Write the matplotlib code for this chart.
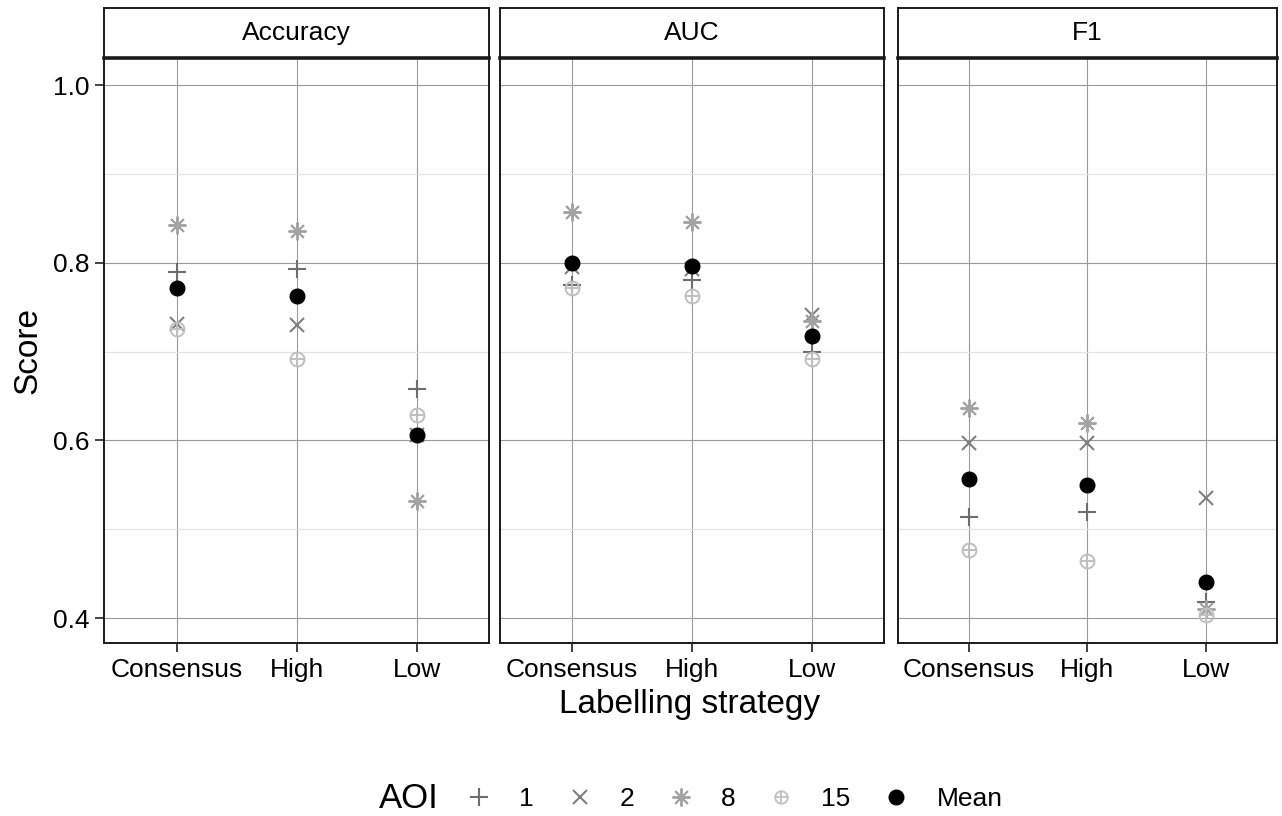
import matplotlib
matplotlib.use("Agg")
import matplotlib.pyplot as plt
from matplotlib.lines import Line2D

plt.rcParams['font.family'] = ['Liberation Sans', 'DejaVu Sans']

metrics = ["Accuracy", "AUC", "F1"]
strategies = ["Consensus", "High", "Low"]
aoi_labels = ["1", "2", "8", "15"]

# values per metric: [Consensus, High, Low]
aoi1 = {"Accuracy": [0.790, 0.793, 0.658], "AUC": [0.775, 0.781, 0.699], "F1": [0.514, 0.519, 0.418]}
aoi2 = {"Accuracy": [0.731, 0.730, 0.606], "AUC": [0.795, 0.793, 0.741], "F1": [0.597, 0.597, 0.535]}
aoi8 = {"Accuracy": [0.842, 0.836, 0.532], "AUC": [0.857, 0.846, 0.734], "F1": [0.636, 0.619, 0.410]}
aoi15 = {"Accuracy": [0.725, 0.692, 0.628], "AUC": [0.772, 0.763, 0.692], "F1": [0.477, 0.464, 0.403]}
mean_vals = {"Accuracy": [0.772, 0.763, 0.606], "AUC": [0.800, 0.796, 0.717], "F1": [0.556, 0.550, 0.441]}

W, H = 1282, 816
fig = plt.figure(figsize=(W / 100, H / 100), dpi=100)

panel_x = [(104.5, 489), (500, 884), (897.5, 1277)]
ptop, pbot = 58, 643
stop = 8

c1, c2, c8, c15 = "#6e6e6e", "#808080", "#a3a3a3", "#bfbfbf"
ms = 12.5
fs_tick = 19


def draw_oplus(ax, x, y, color, size):
    ax.plot(x, y, linestyle="none", marker="o", markerfacecolor="none",
            markeredgecolor=color, markersize=size, markeredgewidth=1.4, zorder=3)
    ax.plot(x, y, linestyle="none", marker="+", color=color,
            markersize=size, markeredgewidth=1.4, zorder=3)


for i, m in enumerate(metrics):
    x0, x1 = panel_x[i]
    ax = fig.add_axes([x0 / W, 1 - pbot / H, (x1 - x0) / W, (pbot - ptop) / H])
    xs = list(range(1, len(strategies) + 1))
    ax.set_xlim(0.4, 3.6)
    ax.set_ylim(0.3719, 1.0304)
    ax.set_yticks([0.4, 0.6, 0.8, 1.0])
    ax.set_yticks([0.5, 0.7, 0.9], minor=True)
    ax.set_xticks(xs)
    ax.set_xticklabels(strategies)
    ax.grid(True, which="major", color="#9a9a9a", linewidth=0.8, zorder=0)
    ax.grid(True, which="minor", axis="y", color="#e3e3e3", linewidth=0.8, zorder=0)
    ax.set_axisbelow(True)
    ax.tick_params(axis="both", which="major", direction="out", length=6.5, width=1.2,
                   color="#222222", labelsize=fs_tick, labelcolor="black", pad=4)
    ax.tick_params(axis="both", which="minor", length=0)
    if i == 0:
        ax.set_yticklabels(["0.4", "0.6", "0.8", "1.0"])
    else:
        ax.tick_params(axis="y", which="major", length=0, labelleft=False)
    for s in ax.spines.values():
        s.set_linewidth(1.4)
        s.set_color("#1a1a1a")

    ax.plot(xs, aoi1[m], linestyle="none", marker="+", color=c1, markersize=ms * 1.05,
            markeredgewidth=1.5, zorder=3)
    ax.plot(xs, aoi2[m], linestyle="none", marker="x", color=c2, markersize=ms * 0.77,
            markeredgewidth=1.5, zorder=3)
    ax.plot(xs, aoi8[m], linestyle="none", marker=(8, 2, 0), color=c8, markersize=ms * 1.03,
            markeredgewidth=1.4, zorder=3)
    draw_oplus(ax, xs, aoi15[m], c15, 10)
    ax.plot(xs, mean_vals[m], linestyle="none", marker="o", color="black", markersize=10.5, zorder=4)

    # strip
    sax = fig.add_axes([x0 / W, 1 - ptop / H, (x1 - x0) / W, (ptop - stop) / H])
    sax.set_xticks([])
    sax.set_yticks([])
    for s in sax.spines.values():
        s.set_linewidth(1.4)
        s.set_color("#1a1a1a")
    sax.spines["bottom"].set_linewidth(2.6)
    sax.text(0.5, 0.5, m, ha="center", va="center", fontsize=19, transform=sax.transAxes)

fig.text(690 / W, 1 - 704 / H, "Labelling strategy", ha="center", va="center", fontsize=24)
fig.text(28 / W, 1 - 350 / H, "Score", ha="center", va="center", rotation=90, fontsize=24)

# legend
fig.text(409 / W, 1 - 799 / H, "AOI", ha="center", va="center", fontsize=25)
handles = [
    Line2D([], [], linestyle="none", marker="+", color=c1, markersize=ms * 1.05, markeredgewidth=1.5),
    Line2D([], [], linestyle="none", marker="x", color=c2, markersize=ms * 0.77, markeredgewidth=1.5),
    Line2D([], [], linestyle="none", marker=(8, 2, 0), color=c8, markersize=ms * 1.03, markeredgewidth=1.4),
    (Line2D([], [], linestyle="none", marker="o", markerfacecolor="none", markeredgecolor=c15,
            markersize=9, markeredgewidth=1.3),
     Line2D([], [], linestyle="none", marker="+", color=c15, markersize=9, markeredgewidth=1.3)),
    Line2D([], [], linestyle="none", marker="o", color="black", markersize=10.5),
]
labels = aoi_labels + ["Mean"]
fig.legend(handles, labels, loc="center left", bbox_to_anchor=(458 / W, 1 - 799 / H), ncol=5,
           frameon=False, fontsize=19, handlelength=1.6, handletextpad=0.72, columnspacing=0.94,
           borderaxespad=0, borderpad=0)

fig.savefig("out.png", dpi=100)
